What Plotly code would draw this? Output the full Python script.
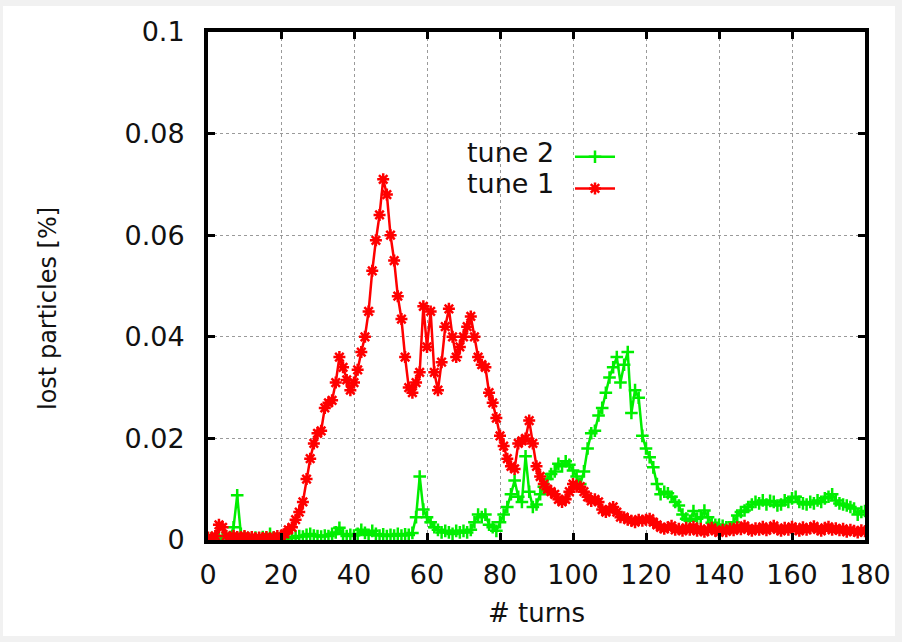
import plotly.graph_objects as go

# Turn numbers (one sample per turn)
turns = list(range(0, 181))

# Lost particles [%] per turn, tune 2
tune2 = [
    0.0003, 0.0004, 0.0002, 0.0005, 0.0003, 0.0004, 0.0006, 0.0025, 0.0088, 0.0012,
    0.0005, 0.0004, 0.0003, 0.0005, 0.0003, 0.0006, 0.0004, 0.0012, 0.0005, 0.0003,
    0.0004, 0.0003, 0.0005, 0.0004, 0.0006, 0.0008, 0.0007, 0.0010, 0.0012, 0.0009,
    0.0008, 0.0007, 0.0009, 0.0008, 0.0012, 0.0015, 0.0024, 0.0012, 0.0008, 0.0010,
    0.0009, 0.0012, 0.0020, 0.0014, 0.0010, 0.0018, 0.0012, 0.0009, 0.0011, 0.0008,
    0.0010, 0.0009, 0.0012, 0.0009, 0.0011, 0.0010, 0.0014, 0.0045, 0.0125, 0.0060,
    0.0045, 0.0035, 0.0025, 0.0020, 0.0015, 0.0018, 0.0015, 0.0012, 0.0018, 0.0015,
    0.0018, 0.0015, 0.0020, 0.0035, 0.0050, 0.0045, 0.0050, 0.0030, 0.0025, 0.0018,
    0.0035, 0.0050, 0.0065, 0.0090, 0.0117, 0.0085, 0.0075, 0.0165, 0.0095, 0.0065,
    0.0070, 0.0090, 0.0105, 0.0120, 0.0130, 0.0135, 0.0150, 0.0145, 0.0155, 0.0148,
    0.0137, 0.0125, 0.0110, 0.0135, 0.0180, 0.0210, 0.0215, 0.0245, 0.0260, 0.0290,
    0.0320, 0.0340, 0.0360, 0.0310, 0.0345, 0.0370, 0.0250, 0.0295, 0.0280, 0.0205,
    0.0180, 0.0163, 0.0143, 0.0110, 0.0090, 0.0095, 0.0092, 0.0085, 0.0075, 0.0068,
    0.0050, 0.0042, 0.0038, 0.0057, 0.0042, 0.0045, 0.0058, 0.0045, 0.0034, 0.0030,
    0.0030, 0.0028, 0.0025, 0.0024, 0.0035, 0.0048, 0.0055, 0.0058, 0.0065, 0.0070,
    0.0075, 0.0072, 0.0078, 0.0070, 0.0077, 0.0075, 0.0068, 0.0070, 0.0078, 0.0075,
    0.0082, 0.0085, 0.0075, 0.0072, 0.0070, 0.0075, 0.0072, 0.0078, 0.0075, 0.0082,
    0.0085, 0.0090, 0.0078, 0.0072, 0.0070, 0.0068, 0.0065, 0.0062, 0.0050, 0.0055,
    0.0057,
]

# Lost particles [%] per turn, tune 1
tune1 = [
    0.0005, 0.0003, 0.0008, 0.0030, 0.0025, 0.0008, 0.0005, 0.0008, 0.0006, 0.0005,
    0.0008, 0.0004, 0.0006, 0.0003, 0.0005, 0.0004, 0.0006, 0.0003, 0.0005, 0.0008,
    0.0006, 0.0012, 0.0020, 0.0025, 0.0040, 0.0055, 0.0075, 0.0120, 0.0160, 0.0190,
    0.0210, 0.0215, 0.0260, 0.0270, 0.0275, 0.0310, 0.0360, 0.0340, 0.0315, 0.0295,
    0.0310, 0.0335, 0.0370, 0.0400, 0.0450, 0.0530, 0.0590, 0.0640, 0.0710, 0.0680,
    0.0600, 0.0550, 0.0480, 0.0435, 0.0360, 0.0300, 0.0290, 0.0310, 0.0330, 0.0460,
    0.0380, 0.0450, 0.0330, 0.0295, 0.0350, 0.0420, 0.0455, 0.0400, 0.0360, 0.0380,
    0.0400, 0.0420, 0.0440, 0.0400, 0.0360, 0.0345, 0.0340, 0.0290, 0.0270, 0.0240,
    0.0205, 0.0185, 0.0160, 0.0145, 0.0140, 0.0190, 0.0195, 0.0200, 0.0235, 0.0190,
    0.0145, 0.0125, 0.0110, 0.0100, 0.0095, 0.0090, 0.0080, 0.0075, 0.0080, 0.0095,
    0.0110, 0.0105, 0.0105, 0.0095, 0.0085, 0.0077, 0.0080, 0.0075, 0.0060, 0.0055,
    0.0060, 0.0065, 0.0055, 0.0045, 0.0045, 0.0040, 0.0038, 0.0035, 0.0040, 0.0038,
    0.0040, 0.0042, 0.0035, 0.0030, 0.0025, 0.0022, 0.0025, 0.0028, 0.0020, 0.0022,
    0.0018, 0.0024, 0.0020, 0.0026, 0.0018, 0.0022, 0.0016, 0.0020, 0.0024, 0.0018,
    0.0015, 0.0020, 0.0017, 0.0022, 0.0019, 0.0025, 0.0021, 0.0028, 0.0022, 0.0018,
    0.0023, 0.0020, 0.0026, 0.0019, 0.0023, 0.0028, 0.0021, 0.0018, 0.0024, 0.0020,
    0.0026, 0.0022, 0.0018, 0.0025, 0.0020, 0.0023, 0.0027, 0.0021, 0.0018, 0.0024,
    0.0026, 0.0020, 0.0023, 0.0019, 0.0022, 0.0016, 0.0020, 0.0018, 0.0015, 0.0019,
    0.0017,
]

series_names = ["tune 2", "tune 1"]
x_ticks = list(range(0, 181, 20))

FONT = "DejaVu Sans, Liberation Sans, Arial, sans-serif"
TEXT = "#111111"

# Plot-area geometry in pixels (902 x 642 canvas)
W, H = 902, 642
L, R, T, B = 208, 37, 32, 102
pw, ph = W - L - R, H - T - B


def px_to_paper_x(px):
    return (px - L) / pw


def px_to_paper_y(py):
    return (H - B - py) / ph


fig = go.Figure()

fig.add_trace(go.Scatter(
    x=turns, y=tune2, name=series_names[0], mode="lines+markers",
    line=dict(color="#00ee00", width=2.5),
    marker=dict(symbol="cross-thin", size=9, color="#00ee00",
                line=dict(color="#00ee00", width=2.5)),
))
fig.add_trace(go.Scatter(
    x=turns, y=tune1, name=series_names[1], mode="lines+markers",
    line=dict(color="#ff0000", width=2.5),
    marker=dict(symbol="asterisk", size=10, color="#ff0000",
                line=dict(color="#ff0000", width=2.5)),
))

axis_common = dict(
    showline=True, linecolor="black", linewidth=4, mirror="ticks",
    ticks="inside", ticklen=7, tickwidth=3, tickcolor="black",
    showgrid=True, gridcolor="#9a9a9a", gridwidth=1, griddash="dot",
    zeroline=False, automargin=False,
    tickfont=dict(family=FONT, size=27, color=TEXT),
)

fig.update_xaxes(
    range=[0, 180], tickvals=x_ticks, ticklabelstandoff=8,
    title=dict(text="# turns", font=dict(family=FONT, size=26, color=TEXT),
               standoff=15),
    **axis_common,
)
fig.update_yaxes(
    range=[0, 0.1], dtick=0.02, ticklabelstandoff=14,
    **axis_common,
)

# Y-axis title, placed as a rotated annotation
fig.add_annotation(
    xref="paper", yref="paper",
    x=px_to_paper_x(48), y=px_to_paper_y(309),
    text="lost particles [%]", textangle=-90, showarrow=False,
    xanchor="center", yanchor="middle",
    font=dict(family=FONT, size=24, color=TEXT),
)

# Legend: text on the left, line sample on the right (annotations + legend samples)
legend_text_right = 556
legend_rows = [152, 183]
for name, ypx in zip(series_names, legend_rows):
    fig.add_annotation(
        xref="paper", yref="paper",
        x=px_to_paper_x(legend_text_right), y=px_to_paper_y(ypx),
        text=name, showarrow=False, xanchor="right", yanchor="middle",
        font=dict(family=FONT, size=27, color=TEXT),
    )

fig.update_layout(
    width=W, height=H,
    margin=dict(l=L, r=R, t=T, b=B),
    paper_bgcolor="#f1f1f1",
    plot_bgcolor="white",
    showlegend=True,
    legend=dict(
        x=px_to_paper_x(570), y=px_to_paper_y(136),
        xanchor="left", yanchor="top",
        bgcolor="rgba(0,0,0,0)",
        font=dict(family=FONT, size=22, color="rgba(0,0,0,0)"),
        itemwidth=40, tracegroupgap=0,
    ),
    shapes=[dict(
        type="rect", xref="paper", yref="paper", layer="below",
        x0=px_to_paper_x(3), x1=px_to_paper_x(895),
        y0=px_to_paper_y(636), y1=px_to_paper_y(6),
        fillcolor="white", line=dict(width=0),
    )],
)

fig.write_html("out.html")
